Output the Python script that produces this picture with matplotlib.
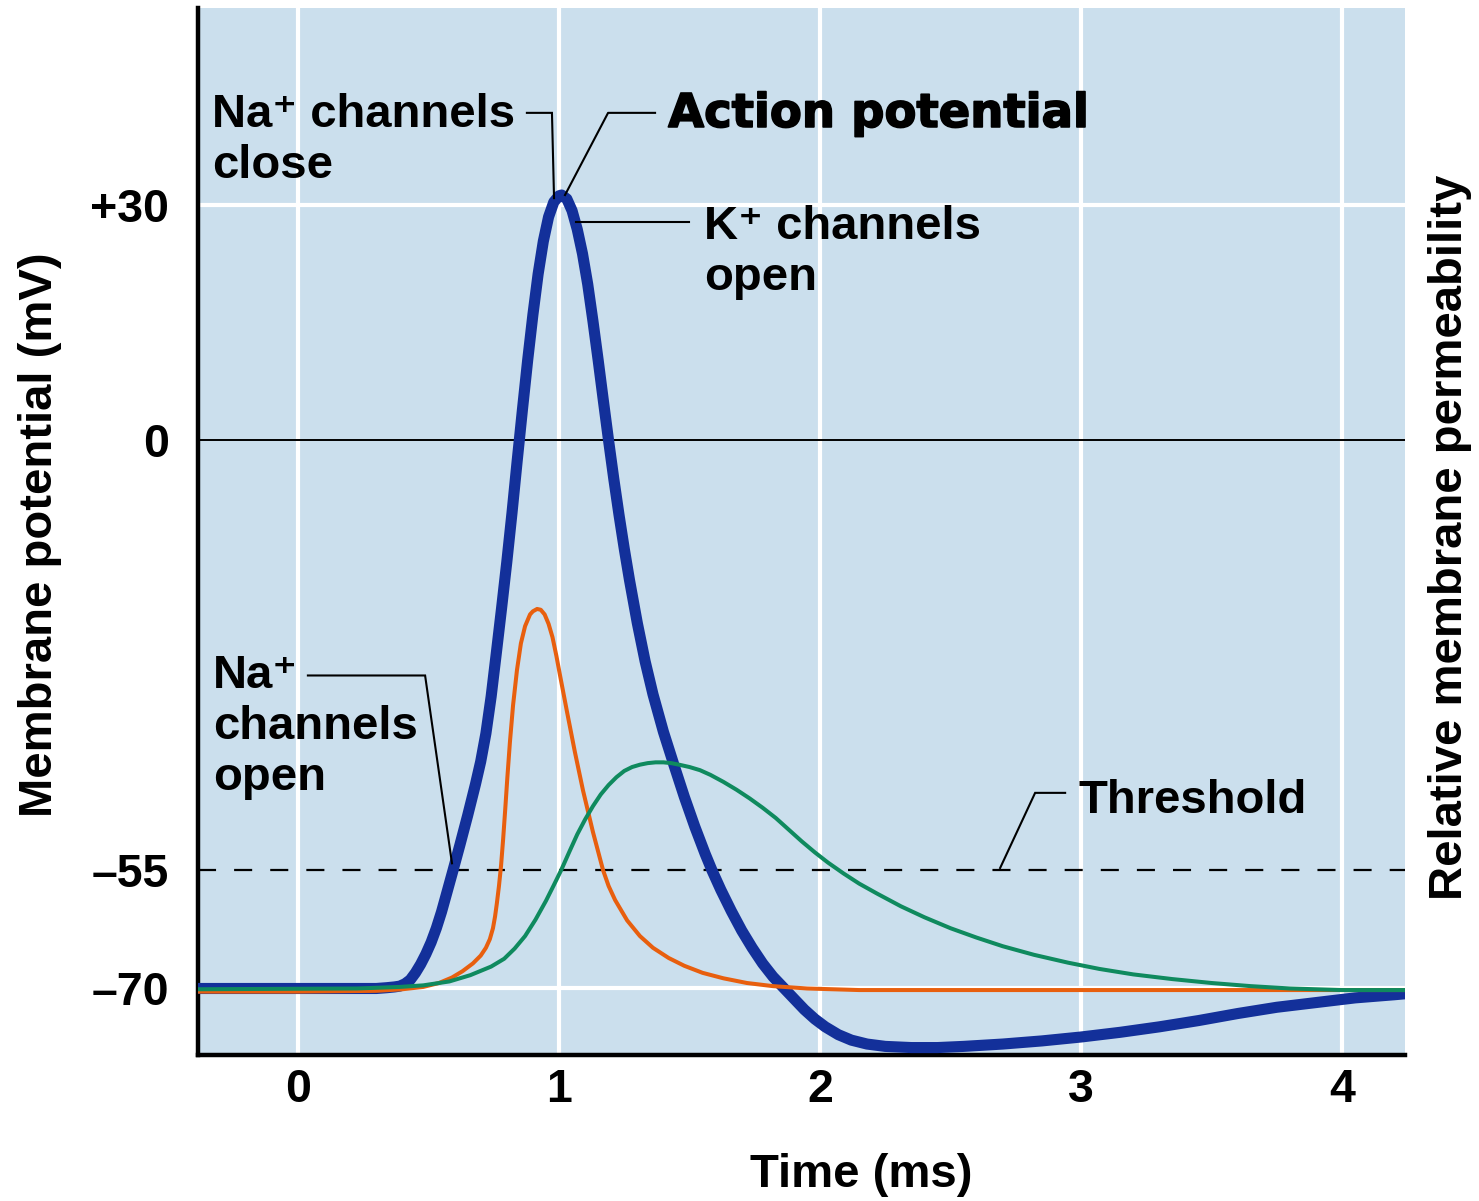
import matplotlib
matplotlib.use("Agg")
import matplotlib.pyplot as plt
import matplotlib.patheffects as pe

plt.rcParams['font.family'] = ['Liberation Sans', 'DejaVu Sans']
plt.rcParams['font.weight'] = 'bold'
plt.rcParams['lines.scale_dashes'] = False

# membrane potential (mV) against time (ms)
t_vm = [-0.40, 0.30, 0.34, 0.37, 0.39, 0.41, 0.43, 0.45, 0.47, 0.49,
        0.51, 0.53, 0.55, 0.57, 0.594, 0.62, 0.65, 0.68, 0.70, 0.72,
        0.74, 0.76, 0.78, 0.80, 0.82, 0.84, 0.86, 0.88, 0.90, 0.92,
        0.94, 0.96, 0.98, 1.00, 1.01, 1.03, 1.05, 1.07, 1.09, 1.11,
        1.13, 1.15, 1.17, 1.19, 1.21, 1.23, 1.25, 1.27, 1.30, 1.33,
        1.36, 1.40, 1.44, 1.48, 1.52, 1.56, 1.586, 1.62, 1.66, 1.70,
        1.74, 1.78, 1.82, 1.86, 1.90, 1.94, 1.98, 2.02, 2.07, 2.12,
        2.18, 2.25, 2.35, 2.45, 2.55, 2.70, 2.85, 3.00, 3.15, 3.30,
        3.45, 3.60, 3.75, 3.90, 4.05, 4.20, 4.30]
vm = [-70.1, -70.1, -70.0, -69.9, -69.8, -69.5, -69.0, -68.1, -67.0, -65.7,
      -64.2, -62.4, -60.3, -57.9, -55.0, -51.8, -48.0, -44.0, -41.1, -37.5,
      -32.8, -27.2, -21.5, -15.6, -9.3, -2.6, 3.9, 10.2, 16.0, 21.2,
      25.4, 28.5, 30.4, 31.2, 31.3, 30.8, 29.3, 26.9, 23.8, 19.9,
      15.2, 10.2, 5.0, -0.1, -5.0, -9.6, -13.9, -17.9, -23.4, -28.3,
      -32.5, -37.3, -41.5, -45.6, -49.4, -52.9, -55.0, -57.5, -60.2, -62.7,
      -64.9, -66.9, -68.6, -70.0, -71.4, -72.8, -74.0, -75.0, -76.0, -76.7,
      -77.2, -77.5, -77.65, -77.65, -77.5, -77.2, -76.8, -76.3, -75.7, -75.0,
      -74.2, -73.3, -72.5, -71.9, -71.3, -70.9, -70.6]

# Na+ permeability (drawn on the mV scale, no units of its own)
t_na = [-0.40, 0.00, 0.30, 0.40, 0.48, 0.54, 0.59, 0.63, 0.67, 0.70,
        0.72, 0.735, 0.747, 0.755, 0.762, 0.770, 0.778, 0.786, 0.794, 0.802,
        0.812, 0.824, 0.839, 0.854, 0.870, 0.889, 0.90, 0.916, 0.93, 0.945,
        0.96, 0.975, 0.99, 1.004, 1.031, 1.061, 1.092, 1.130, 1.169, 1.19,
        1.215, 1.261, 1.31, 1.36, 1.42, 1.48, 1.55, 1.63, 1.72, 1.82,
        1.95, 2.15, 3.073, 4.30]
na_perm = [-70.5, -70.5, -70.4, -70.2, -69.9, -69.4, -68.7, -67.9, -66.9, -65.9,
           -64.9, -63.8, -62.4, -60.9, -59.2, -57.0, -54.4, -51.0, -47.2, -43.2,
           -38.6, -33.9, -29.4, -26.0, -23.8, -22.3, -21.9, -21.6, -21.7, -22.3,
           -23.5, -25.2, -27.6, -30.1, -34.8, -39.9, -44.8, -50.1, -55.0, -57.0,
           -58.8, -61.4, -63.4, -64.9, -66.2, -67.2, -68.1, -68.8, -69.4, -69.8,
           -70.1, -70.3, -70.3, -70.3]

# K+ permeability
t_k = [-0.40, 0.226, 0.39, 0.48, 0.58, 0.66, 0.74, 0.79, 0.83, 0.87,
       0.91, 0.95, 0.98, 1.008, 1.04, 1.07, 1.10, 1.13, 1.16, 1.19,
       1.22, 1.25, 1.28, 1.31, 1.34, 1.37, 1.40, 1.43, 1.46, 1.50,
       1.54, 1.58, 1.63, 1.68, 1.73, 1.78, 1.83, 1.88, 1.93, 1.98,
       2.03, 2.09, 2.15, 2.22, 2.31, 2.40, 2.50, 2.60, 2.70, 2.82,
       2.95, 3.07, 3.20, 3.35, 3.50, 3.65, 3.80, 4.00, 4.30]
k_perm = [-70.2, -70.1, -69.9, -69.7, -69.2, -68.4, -67.3, -66.3, -65.0, -63.4,
          -61.3, -58.9, -56.9, -55.0, -52.6, -50.4, -48.5, -46.8, -45.3, -44.1,
          -43.1, -42.3, -41.8, -41.5, -41.3, -41.2, -41.2, -41.3, -41.5, -41.8,
          -42.2, -42.8, -43.7, -44.7, -45.8, -47.0, -48.3, -49.8, -51.3, -52.7,
          -54.0, -55.4, -56.7, -58.0, -59.6, -61.0, -62.4, -63.6, -64.7, -65.8,
          -66.8, -67.6, -68.3, -68.9, -69.4, -69.8, -70.1, -70.3, -70.3]

x_ticks = [0, 1, 2, 3, 4]
y_ticks = [30, 0, -55, -70]
y_ticklabels = ['+30', '0', '\u201355', '\u201370']
grid_y = [30, -70]
threshold = -55

blue = '#13309a'
orange = '#e85f0e'
green = '#0f8a5e'
bg = '#cbdfed'

fig = plt.figure(figsize=(14.79, 12.01), dpi=100)
ax = fig.add_axes([198 / 1479, 146 / 1201, 1207 / 1479, 1047 / 1201])
ax.set_facecolor(bg)
ax.set_xlim(-0.383, 4.241)
ax.set_ylim(-78.6, 55.2)

for x in x_ticks:
    ax.axvline(x, color='white', lw=3, zorder=1)
for y in grid_y:
    ax.axhline(y, color='white', lw=3, zorder=1)
ax.axhline(0, color='black', lw=1.4, zorder=2)
ax.axhline(threshold, color='black', lw=1.6, dashes=(13, 13), zorder=2)

ax.plot(t_vm, vm, color=blue, lw=8, solid_joinstyle='round', zorder=3)
ax.plot(t_na, na_perm, color=orange, lw=2.9, solid_joinstyle='round', zorder=4)
ax.plot(t_k, k_perm, color=green, lw=2.9, solid_joinstyle='round', zorder=5)

for s in ['top', 'right']:
    ax.spines[s].set_visible(False)
for s in ['left', 'bottom']:
    ax.spines[s].set_linewidth(3.2)
    ax.spines[s].set_capstyle('projecting')

ax.set_xticks(x_ticks)
ax.set_yticks(y_ticks)
ax.set_yticklabels(y_ticklabels)
ax.tick_params(axis='both', length=0, labelsize=33.5)
ax.tick_params(axis='y', pad=21)
ax.tick_params(axis='x', pad=9)

fig.text(40 / 1479, 1 - 535 / 1201, 'Membrane potential (mV)', rotation=90,
         ha='center', va='center', fontsize=34)
fig.text(1450 / 1479, 1 - 537 / 1201, 'Relative membrane permeability', rotation=90,
         ha='center', va='center', fontsize=34)
fig.text(861 / 1479, 1 - 1175 / 1201, 'Time (ms)', ha='center', va='center', fontsize=34)

# callouts: text lines, first baseline (t, mV), leader polyline
notes = [
    (['Na\u207a channels', 'close'], (-0.330, 40.0), ([0.877, 0.973, 0.981], [41.8, 41.8, 30.9])),
    (['K\u207a channels', 'open'], (1.556, 25.7), ([1.065, 1.498], [27.9, 27.9])),
    (['Na\u207a', 'channels', 'open'], (-0.326, -31.7), ([0.038, 0.487, 0.590], [-30.1, -30.1, -54.1])),
    (['Threshold'], (2.989, -47.7), ([2.939, 2.824, 2.690], [-45.1, -45.1, -54.7])),
]
for lines, (tx, ty), (lx, ly) in notes:
    for i, s in enumerate(lines):
        ax.annotate(s, (tx, ty), xytext=(0, -i * 36.7), textcoords='offset points',
                    ha='left', va='baseline', fontsize=34, zorder=6)
    ax.plot(lx, ly, color='black', lw=1.5, solid_joinstyle='miter', zorder=6, clip_on=False)

ax.text(1.418, 40.0, 'Action potential', ha='left', va='baseline', fontsize=33.5,
        family='DejaVu Sans', weight='bold', zorder=6,
        path_effects=[pe.withStroke(linewidth=1.2, foreground='black')])
ax.plot([1.368, 1.188, 1.023], [41.8, 41.8, 31.3], color='black', lw=1.5, zorder=6)

fig.savefig('out.png', dpi=100, facecolor='white')
